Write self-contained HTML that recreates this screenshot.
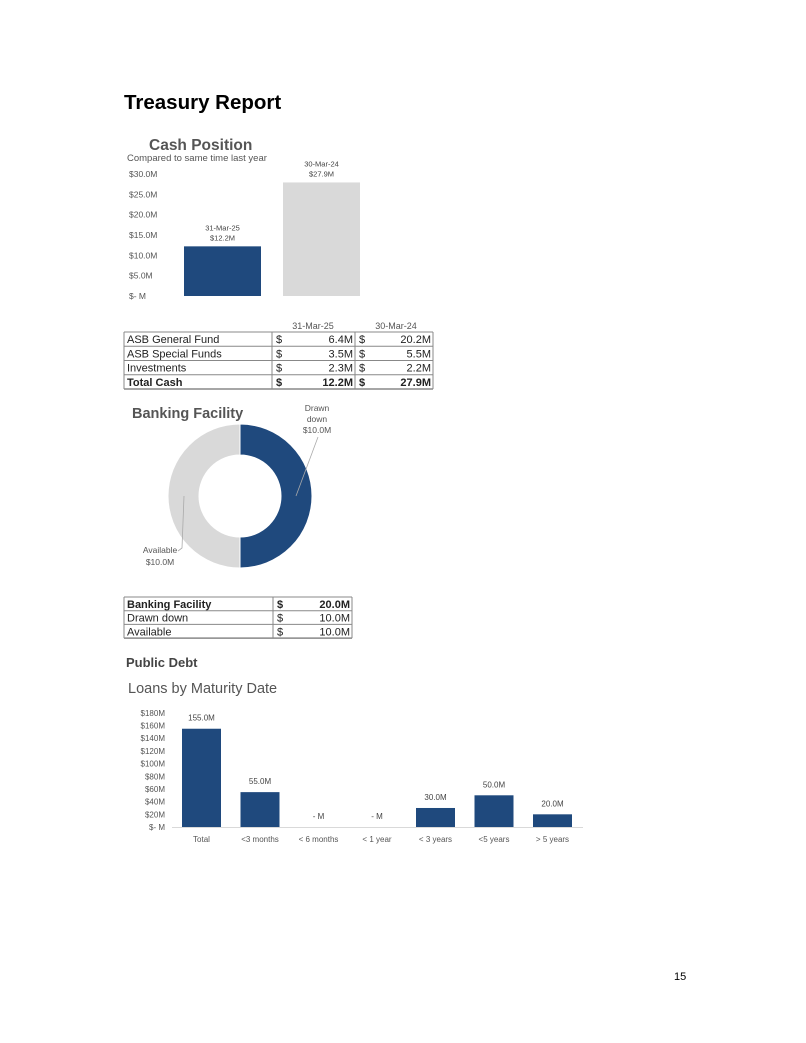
<!DOCTYPE html>
<html><head><meta charset="utf-8">
<style>
html,body{margin:0;padding:0;background:#fff;}
body{width:806px;height:1043px;position:relative;overflow:hidden;font-family:"Liberation Sans",Arial,sans-serif;}
svg{position:absolute;left:0;top:0;}
</style></head>
<body>
<svg id="s" width="806" height="1043" font-family="Liberation Sans, Arial, sans-serif">
  <text x="124" y="109" font-size="20.5" font-weight="bold" fill="#000">Treasury Report</text>

  <g>
    <text x="149" y="150" font-size="15.5" font-weight="bold" fill="#555">Cash Position</text>
    <text x="127" y="161" font-size="9.5" fill="#555">Compared to same time last year</text>
    <g id="cashAxis"></g>
    <g id="cashBars"></g>
  </g>

  <g id="cashTable"></g>

  <g>
    <text x="132" y="418" font-size="14.5" font-weight="bold" fill="#555">Banking Facility</text>
    <g id="donut"></g>
    <line x1="318" y1="437" x2="296" y2="496" stroke="#aaa" stroke-width="0.8"/>
    <text font-size="8.5" fill="#555" text-anchor="middle"><tspan x="317" y="411">Drawn</tspan><tspan x="317" y="422">down</tspan><tspan x="317" y="433">$10.0M</tspan></text>
    <polyline points="184,496 182,548 178,551" fill="none" stroke="#aaa" stroke-width="0.8"/>
    <text font-size="8.5" fill="#555" text-anchor="middle"><tspan x="160" y="553">Available</tspan><tspan x="160" y="565">$10.0M</tspan></text>
  </g>

  <g id="bankTable"></g>

  <text x="126" y="667" font-size="13" font-weight="bold" fill="#444">Public Debt</text>
  <text x="128" y="693" font-size="14.5" fill="#555">Loans by Maturity Date</text>
  <g id="debtAxis"></g>
  <g id="debtBars"></g>

  <text x="674" y="980" font-size="11" fill="#000">15</text>
</svg>
<script>
const NS='http://www.w3.org/2000/svg';
function mk(tag,attrs,parent,txt){const e=document.createElementNS(NS,tag);for(const k in attrs)e.setAttribute(k,attrs[k]);if(txt!==undefined)e.textContent=txt;parent.appendChild(e);return e;}

// ---- Cash position data ----
const cashCategories=['31-Mar-25','30-Mar-24'];
const cashValues=[12.2,27.9];
const cashValueLabels=['$12.2M','$27.9M'];
const cashTicks=[0,5,10,15,20,25,30];
const cashTickLabels=['$-  M','$5.0M','$10.0M','$15.0M','$20.0M','$25.0M','$30.0M'];
const cashColors=['#1f497d','#d9d9d9'];

const cy=v=>296-v*4.07;
const cx=i=>184+i*99;
const ca=document.getElementById('cashAxis');
cashTicks.forEach((t,i)=>{const e=mk('text',{x:129,y:cy(t)+3,'font-size':8.5,fill:'#555'},ca,cashTickLabels[i]);

});
const cb=document.getElementById('cashBars');
cashValues.forEach((v,i)=>{const r=mk('rect',{x:cx(i),y:cy(v),width:77,height:296-cy(v),fill:cashColors[i]},cb);


const t1=mk('text',{x:cx(i)+38.5,y:cy(v)-16,'font-size':7.5,fill:'#444','text-anchor':'middle'},cb,cashCategories[i]);


const t2=mk('text',{x:cx(i)+38.5,y:cy(v)-6,'font-size':7.5,fill:'#444','text-anchor':'middle'},cb,cashValueLabels[i]);

});

// ---- Cash table ----
const cashRows=['ASB General Fund','ASB Special Funds','Investments','Total Cash'];
const cashCol1=['6.4M','3.5M','2.3M','12.2M'];
const cashCol2=['20.2M','5.5M','2.2M','27.9M'];
function table(gid,x0,x1,y0,rh,cols,rows,vals,boldRow,nameP){
  const g=document.getElementById(gid);
  rows.forEach((r,i)=>{const y=y0+i*rh;const b=(i===boldRow)?'bold':'normal';
    const t=mk('text',{x:x0+3,y:y+11,'font-size':11,'font-weight':b,fill:'#222'},g,r);
    
    
    vals.forEach((col,j)=>{const d=mk('text',{x:cols[j]+4,y:y+11,'font-size':11,'font-weight':b,fill:'#222'},g,'$');
      
      
      const end=(j+1<cols.length)?cols[j+1]:x1;
      const v=mk('text',{x:end-2,y:y+11,'font-size':11,'font-weight':b,fill:'#222','text-anchor':'end'},g,col[i]);
      
      });
    mk('line',{x1:x0,y1:y,x2:x1,y2:y,stroke:'#888','stroke-width':1},g);
  });
  const yb=y0+rows.length*rh;
  mk('line',{x1:x0,y1:yb,x2:x1,y2:yb,stroke:'#888','stroke-width':1.5},g);
  [x0,...cols,x1].forEach(x=>mk('line',{x1:x,y1:y0,x2:x,y2:yb,stroke:'#888','stroke-width':1},g));
}
table('cashTable',124,433,332,14.25,[272,355],cashRows,[cashCol1,cashCol2],3,'cash-table');
const ct=document.getElementById('cashTable');
['31-Mar-25','30-Mar-24'].forEach((h,j)=>{const e=mk('text',{x:[313,396][j],y:329,'font-size':9,fill:'#555','text-anchor':'middle'},ct,h);

});

// ---- Donut ----
const donutLabels=['Drawn down','Available'];
const donutValues=[10,10];
const donutColors=['#1f497d','#d9d9d9'];
const dg=document.getElementById('donut');
const CX=240,CY=496,R=72,r0=41;
const tot=donutValues.reduce((a,b)=>a+b,0);
let ang=0;
donutValues.forEach((v,i)=>{const a0=ang,a1=ang+v/tot*2*Math.PI;ang=a1;
  const p=(a,rr)=>[CX+rr*Math.sin(a),CY-rr*Math.cos(a)];
  const [x0,y0]=p(a0,R),[x1,y1]=p(a1,R),[x2,y2]=p(a1,r0),[x3,y3]=p(a0,r0);
  const lg=(a1-a0)>Math.PI?1:0;
  const e=mk('path',{d:`M${x0},${y0}A${R},${R} 0 ${lg} 1 ${x1},${y1}L${x2},${y2}A${r0},${r0} 0 ${lg} 0 ${x3},${y3}Z`,fill:donutColors[i],stroke:'#fff','stroke-width':1},dg);
  
  });

// ---- Banking table ----
table('bankTable',124,352,597,13.7,[273],['Banking Facility','Drawn down','Available'],[['20.0M','10.0M','10.0M']],0,'bank-table');

// ---- Debt chart ----
const debtCategories=['Total','<3 months','< 6 months','< 1 year','< 3 years','<5 years','> 5 years'];
const debtValues=[155,55,0,0,30,50,20];
const debtValueLabels=['155.0M','55.0M','-  M','-  M','30.0M','50.0M','20.0M'];
const debtTicks=[0,20,40,60,80,100,120,140,160,180];
const debtTickLabels=['$-  M','$20M','$40M','$60M','$80M','$100M','$120M','$140M','$160M','$180M'];
const dy=v=>827-v*0.634;
const dx=i=>182+i*58.5;
const da=document.getElementById('debtAxis');
debtTicks.forEach((t,i)=>{const e=mk('text',{x:165,y:dy(t)+3,'font-size':8,fill:'#555','text-anchor':'end'},da,debtTickLabels[i]);

});
mk('line',{x1:172,y1:827.5,x2:583,y2:827.5,stroke:'#d9d9d9','stroke-width':1},da);
const db=document.getElementById('debtBars');
debtValues.forEach((v,i)=>{
  const r=mk('rect',{x:dx(i),y:dy(v),width:39,height:827-dy(v),fill:'#1f497d'},db);
  
  
  const t=mk('text',{x:dx(i)+19.5,y:dy(v)-8,'font-size':8,fill:'#444','text-anchor':'middle'},db,debtValueLabels[i]);
  
  
  const c=mk('text',{x:dx(i)+19.5,y:842,'font-size':8,fill:'#555','text-anchor':'middle'},db,debtCategories[i]);
  
  });
</script>
</body></html>
